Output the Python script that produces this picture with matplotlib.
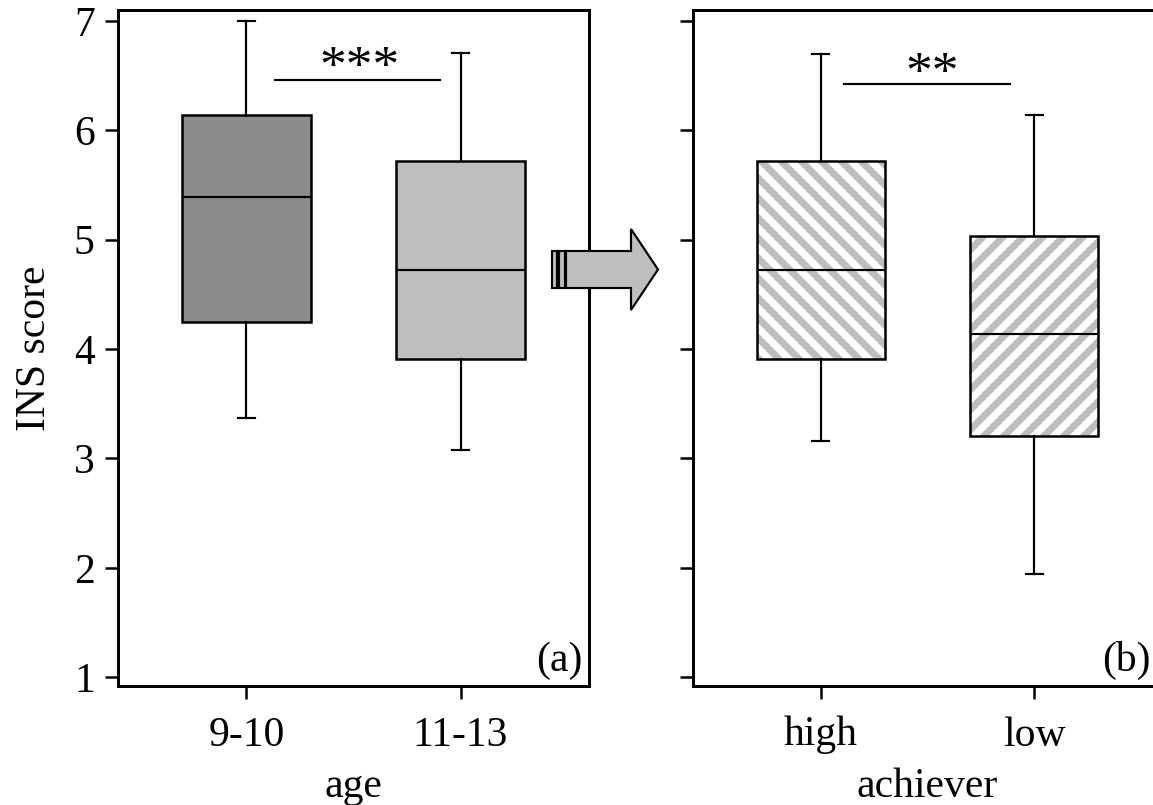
import matplotlib
matplotlib.use("Agg")
import matplotlib.pyplot as plt
from matplotlib.patches import Rectangle, Polygon

plt.rcParams['font.family'] = ['Liberation Serif', 'DejaVu Serif']
plt.rcParams['font.size'] = 25
plt.rcParams['hatch.linewidth'] = 4.2

# panel (a): age groups
age_groups = ["9-10", "11-13"]
age_whislo = [3.37, 3.08]
age_q1 = [4.25, 3.91]
age_med = [5.39, 4.72]
age_q3 = [6.14, 5.72]
age_whishi = [7.00, 6.71]
age_fill = ["#8c8c8c", "#bebebe"]

# panel (b): achievers
ach_groups = ["high", "low"]
ach_whislo = [3.16, 1.94]
ach_q1 = [3.91, 3.21]
ach_med = [4.72, 4.14]
ach_q3 = [5.72, 5.03]
ach_whishi = [6.70, 6.14]
ach_hatch = ["\\\\", "//"]

yticks = [1, 2, 3, 4, 5, 6, 7]

W, H = 1153, 805
DPI = 120
fig = plt.figure(figsize=(W / DPI, H / DPI), dpi=DPI)


def px(x, y):
    return (x / W, 1 - y / H)


ax1 = fig.add_axes([118 / W, 119 / H, 471 / W, 676 / H])
ax2 = fig.add_axes([693 / W, 119 / H, 469 / W, 676 / H])

pos = [1, 2]
bw = 0.6


def panel(ax, names, lo, q1, med, q3, hi):
    stats = [dict(label=n, whislo=a, q1=b, med=c, q3=d, whishi=e, fliers=[])
             for n, a, b, c, d, e in zip(names, lo, q1, med, q3, hi)]
    out = ax.bxp(stats, positions=pos, widths=bw, capwidths=0.08,
                 patch_artist=True, showfliers=False,
                 boxprops=dict(edgecolor='black', linewidth=1.5),
                 whiskerprops=dict(color='black', linewidth=1.3),
                 capprops=dict(color='black', linewidth=1.3),
                 medianprops=dict(color='black', linewidth=1.3))
    ax.set_xlim(0.4, 2.6)
    ax.set_ylim(0.92, 7.1)
    ax.set_yticks(yticks)
    for s in ax.spines.values():
        s.set_linewidth(1.8)
    ax.tick_params(direction='out', length=8, width=1.5)
    ax.tick_params(axis='y', pad=6)
    ax.tick_params(axis='x', pad=10)
    return out


b1 = panel(ax1, age_groups, age_whislo, age_q1, age_med, age_q3, age_whishi)
for patch, c in zip(b1['boxes'], age_fill):
    patch.set_facecolor(c)
ax1.set_ylabel("INS score", labelpad=12)
ax1.set_xlabel("age", labelpad=8)

b2 = panel(ax2, ach_groups, ach_whislo, ach_q1, ach_med, ach_q3, ach_whishi)
ax2.set_yticklabels([])
for patch, p, a, b, h in zip(b2['boxes'], pos, ach_q1, ach_q3, ach_hatch):
    patch.set_facecolor('none')
    ax2.add_patch(Rectangle((p - bw / 2, a), bw, b - a, facecolor='white',
                            edgecolor='#bebebe', hatch=h, linewidth=0, zorder=1.5))
ax2.set_xlabel("achiever", labelpad=8)

# significance bars
ax1.plot([1.135, 1.905], [6.46, 6.46], color='black', lw=1.3)
ax1.text(1.53, 6.44, "***", ha='center', va='baseline', fontsize=32)
ax2.plot([1.107, 1.888], [6.42, 6.42], color='black', lw=1.3)
ax2.text(1.52, 6.39, "**", ha='center', va='baseline', fontsize=32)

ax1.annotate("(a)", xy=(1, 0), xycoords='axes fraction', xytext=(-6, 6),
             textcoords='offset pixels', ha='right', va='bottom')
ax2.annotate("(b)", xy=(1, 0), xycoords='axes fraction', xytext=(-11, 6),
             textcoords='offset pixels', ha='right', va='bottom')

# arrow between panels
head = Polygon([px(566, 251), px(631, 251), px(631, 229), px(658, 269.5),
                px(631, 310), px(631, 288), px(566, 288)],
               closed=True, transform=fig.transFigure, facecolor='#bebebe',
               edgecolor='black', linewidth=1.3, zorder=10)
fig.add_artist(head)
for x0, x1 in [(552, 557), (559, 565)]:
    fig.add_artist(Polygon([px(x0, 251), px(x1, 251), px(x1, 288), px(x0, 288)],
                           closed=True, transform=fig.transFigure,
                           facecolor='#bebebe', edgecolor='black',
                           linewidth=1.3, zorder=10))

fig.savefig("out.png", dpi=DPI)
